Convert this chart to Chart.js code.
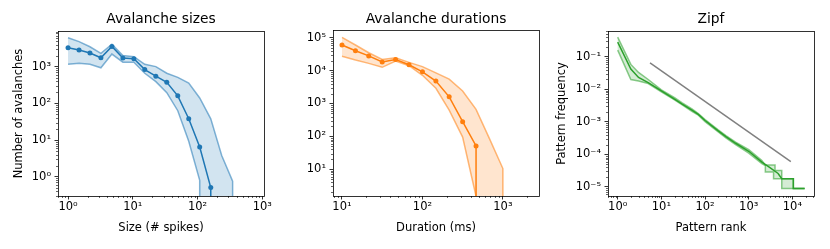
<!DOCTYPE html>
<html>
<head>
<meta charset="utf-8">
<script src="https://cdn.jsdelivr.net/npm/chart.js@4.4.1/dist/chart.umd.min.js"></script>
<style>
  body { margin: 0; background: #fff; }
  canvas { position: absolute; top: 0; }
</style>
</head>
<body>
<canvas id="sizes" width="275" height="249" style="left:0px"></canvas>
<canvas id="durations" width="275" height="249" style="left:275px"></canvas>
<canvas id="zipf" width="275" height="249" style="left:550px"></canvas>
<script>
// Avalanche sizes (0 = no avalanches left, drawn as a drop to the axis)
const sizeMeanX  = [1, 1.48, 2.18, 3.22, 4.76, 7.03, 10.4, 15.3, 22.7, 33.5, 49.5, 73.1, 108, 160, 160];
const sizeMean   = [3280, 2820, 2340, 1740, 3550, 1720, 1650, 830, 550, 376, 160, 38, 6.5, 0.51, 0];
const sizeUpperX = [1, 1.48, 2.18, 3.22, 4.76, 7.03, 10.4, 15.3, 22.7, 33.5, 49.5, 73.1, 108, 160, 236, 348, 348];
const sizeUpper  = [6100, 4790, 3470, 2290, 4070, 2000, 1860, 1160, 1000, 660, 510, 355, 140, 38, 3.8, 0.76, 0];
const sizeLowerX = [1, 1.48, 2.18, 3.22, 4.76, 7.03, 10.4, 15.3, 22.7, 33.5, 49.5, 73.1, 108, 108];
const sizeLower  = [1160, 1230, 1160, 930, 2190, 1320, 1320, 660, 390, 195, 63, 9.3, 0.8, 0];

// Avalanche durations
const durMeanX  = [10, 14.7, 21.5, 31.6, 46.4, 68.1, 100, 147, 215, 316, 464, 464];
const durMean   = [60000, 40000, 28000, 18300, 21800, 15100, 9200, 4800, 1590, 280, 51, 0];
const durUpperX = [10, 14.7, 21.5, 31.6, 46.4, 68.1, 100, 147, 215, 316, 464, 681, 1000, 1000];
const durUpper  = [102000, 60000, 35000, 21900, 24500, 17800, 13200, 8500, 5500, 2400, 660, 85, 10.5, 0];
const durLowerX = [10, 14.7, 21.5, 31.6, 46.4, 68.1, 100, 147, 215, 316, 464];
const durLower  = [27500, 21000, 16600, 12600, 19500, 14100, 7200, 2900, 630, 95, 1.5];

// Zipf: pattern frequency vs rank
const zipfMeanX  = [1, 2, 3, 5, 10, 20, 30, 50, 70, 100, 200, 300, 500, 1000, 2000, 3000, 4700, 5700, 10500, 10500, 19000];
const zipfMean   = [0.28, 0.042, 0.023, 0.016, 0.0089, 0.005, 0.0035, 0.0023, 0.0017, 0.0011, 0.00053, 0.00035, 0.00022, 0.000125, 5.8e-5, 4e-5, 2.6e-5, 1.8e-5, 1.8e-5, 9e-6, 9e-6];
const zipfUpperX = [1, 2, 3, 5, 10, 20, 30, 50, 70, 100, 200, 300, 500, 1000, 2000, 2400, 4000, 4000, 5700, 5700, 10500, 10500, 19000];
const zipfUpper  = [0.40, 0.058, 0.033, 0.02, 0.0096, 0.0055, 0.0038, 0.0025, 0.0018, 0.00118, 0.00057, 0.00038, 0.00024, 0.00014, 6.5e-5, 4.7e-5, 4.7e-5, 3.2e-5, 3.2e-5, 1.8e-5, 1.8e-5, 9e-6, 9e-6];
const zipfLowerX = [1, 2, 3, 5, 10, 20, 30, 50, 70, 100, 200, 300, 500, 1000, 2000, 2400, 2400, 3700, 3700, 5700, 5700, 19000];
const zipfLower  = [0.16, 0.02, 0.018, 0.015, 0.0083, 0.0047, 0.0033, 0.0021, 0.0016, 0.00102, 0.00049, 0.00032, 0.0002, 0.00011, 5.2e-5, 4.5e-5, 2.9e-5, 2.9e-5, 1.8e-5, 1.8e-5, 9e-6, 9e-6];
const refX = [5.5, 9200];
const refY = [0.065, 6e-5];

const FONT = 'DejaVu Sans';
const ZERO = 1e-9; // log axis can't show 0, push it far below the frame
const SUP = { '0': '⁰', '1': '¹', '2': '²', '3': '³', '4': '⁴', '5': '⁵', '6': '⁶', '-': '⁻' };

function pts(xs, ys) {
    return xs.map((x, i) => ({ x: x, y: ys[i] === 0 ? ZERO : ys[i] }));
}

function rgba(c, a) {
    return `rgba(${c[0]},${c[1]},${c[2]},${a})`;
}

function powLabel(v) {
    let e = String(Math.round(Math.log10(v)));
    return '10' + e.split('').map(ch => SUP[ch]).join('');
}

function decades(s) {
    let t = [];
    let lo = Math.ceil(Math.log10(s.min) - 1e-9);
    let hi = Math.floor(Math.log10(s.max) + 1e-9);
    for (let d = lo; d <= hi; d++) t.push({ value: Math.pow(10, d), major: true });
    s.ticks = t;
}

// frame, minor ticks and title, drawn like matplotlib
const framePlugin = {
    id: 'frame',
    afterDraw(chart, args, opts) {
        const ctx = chart.ctx;
        const a = chart.chartArea;
        ctx.save();
        ctx.strokeStyle = '#000';
        ctx.lineWidth = 0.6;
        for (const id of ['x', 'y']) {
            const s = chart.scales[id];
            const lo = Math.floor(Math.log10(s.min)), hi = Math.ceil(Math.log10(s.max));
            for (let d = lo; d <= hi; d++) {
                for (let k = 2; k <= 9; k++) {
                    const v = k * Math.pow(10, d);
                    if (v < s.min || v > s.max) continue;
                    const p = Math.round(s.getPixelForValue(v)) + 0.5;
                    ctx.beginPath();
                    if (id === 'x') { ctx.moveTo(p, a.bottom); ctx.lineTo(p, a.bottom + 2); }
                    else { ctx.moveTo(a.left, p); ctx.lineTo(a.left - 2, p); }
                    ctx.stroke();
                }
            }
        }
        ctx.lineWidth = 0.8;
        ctx.strokeRect(Math.round(a.left) + 0.5, Math.round(a.top) + 0.5,
            Math.round(a.right - a.left), Math.round(a.bottom - a.top));
        ctx.fillStyle = '#000';
        ctx.font = `13.8px "${FONT}"`;
        ctx.textAlign = 'center';
        ctx.textBaseline = 'middle';
        ctx.fillText(opts.text, (a.left + a.right) / 2, 19);
        ctx.restore();
    }
};

function makePanel(id, p) {
    let datasets = [];
    if (p.mean) {
        datasets.push({
            data: pts(p.mean[0], p.mean[1]),
            borderColor: rgba(p.color, 1),
            backgroundColor: rgba(p.color, 1),
            borderWidth: 1.5,
            pointRadius: ctx => (p.markers && ctx.raw && ctx.raw.y > ZERO) ? 2.5 : 0,
            pointBorderWidth: 0,
            clip: 0
        });
    }
    for (const band of [p.upper, p.lower]) {
        datasets.push({
            data: pts(band[0], band[1]),
            borderColor: rgba(p.color, 0.55),
            borderWidth: 1.5,
            pointRadius: 0,
            clip: 0
        });
    }
    datasets.push({
        data: pts(p.upper[0], p.upper[1]).concat(pts(p.lower[0], p.lower[1]).reverse()),
        borderWidth: 0,
        backgroundColor: rgba(p.color, 0.2),
        pointRadius: 0,
        fill: 'shape'
    });
    if (p.ref) {
        datasets.unshift({
            data: pts(p.ref[0], p.ref[1]),
            borderColor: '#808080',
            borderWidth: 1.5,
            pointRadius: 0,
            clip: 0
        });
    }

    const tickFont = { family: FONT, size: 11.5 };
    new Chart(document.getElementById(id), {
        type: 'line',
        data: { datasets: datasets },
        plugins: [framePlugin],
        options: {
            responsive: false,
            animation: false,
            devicePixelRatio: 1,
            elements: { line: { tension: 0 } },
            layout: { padding: { top: p.top, right: 11, left: 0, bottom: 0 } },
            plugins: {
                legend: { display: false },
                tooltip: { enabled: false },
                frame: { text: p.title }
            },
            scales: {
                x: {
                    type: 'logarithmic',
                    min: p.xlim[0], max: p.xlim[1],
                    afterBuildTicks: decades,
                    afterFit: s => { s.height = 53; },
                    border: { display: false },
                    grid: { drawOnChartArea: false, tickLength: 3.5, tickColor: '#000', tickWidth: 0.8 },
                    ticks: { autoSkip: false, maxRotation: 0, padding: 1, color: '#000', font: tickFont, callback: powLabel },
                    title: { display: true, text: p.xTitle, color: '#000', font: tickFont, padding: { top: 0, bottom: 14 } }
                },
                y: {
                    type: 'logarithmic',
                    min: p.ylim[0], max: p.ylim[1],
                    afterBuildTicks: decades,
                    afterFit: s => { s.width = 58; },
                    border: { display: false },
                    grid: { drawOnChartArea: false, tickLength: 3.5, tickColor: '#000', tickWidth: 0.8 },
                    ticks: { autoSkip: false, padding: 3.5, color: '#000', font: tickFont, callback: powLabel },
                    title: { display: !!p.yTitle, text: p.yTitle, color: '#000', font: tickFont, padding: { top: p.yTitlePad, bottom: 0 } }
                }
            }
        }
    });
}

makePanel('sizes', {
    title: 'Avalanche sizes', xTitle: 'Size (# spikes)', yTitle: 'Number of avalanches', yTitlePad: 12.6,
    color: [31, 119, 180], markers: true, top: 31,
    xlim: [0.719, 1062], ylim: [0.311, 9330],
    mean: [sizeMeanX, sizeMean], upper: [sizeUpperX, sizeUpper], lower: [sizeLowerX, sizeLower]
});

makePanel('durations', {
    title: 'Avalanche durations', xTitle: 'Duration (ms)', yTitle: '', yTitlePad: 0,
    color: [255, 127, 14], markers: true, top: 30,
    xlim: [7.73, 2812], ylim: [1.535, 171800],
    mean: [durMeanX, durMean], upper: [durUpperX, durUpper], lower: [durLowerX, durLower]
});

makePanel('zipf', {
    title: 'Zipf', xTitle: 'Pattern rank', yTitle: 'Pattern frequency', yTitlePad: 4.8,
    color: [44, 160, 44], markers: false, top: 31,
    xlim: [0.624, 31190], ylim: [5.28e-6, 0.617],
    mean: [zipfMeanX, zipfMean], upper: [zipfUpperX, zipfUpper], lower: [zipfLowerX, zipfLower],
    ref: [refX, refY]
});
</script>
</body>
</html>
